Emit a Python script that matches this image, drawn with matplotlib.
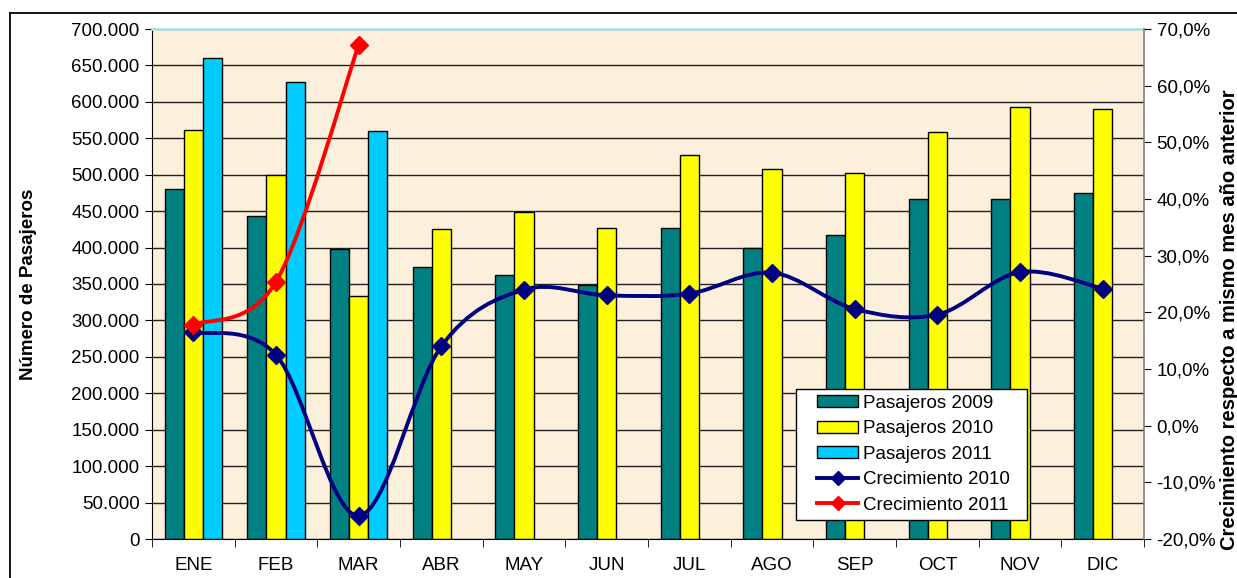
import matplotlib
matplotlib.use("Agg")
import matplotlib.pyplot as plt
import numpy as np
from matplotlib.path import Path
from matplotlib.patches import PathPatch, Patch, Rectangle
from matplotlib.lines import Line2D
from matplotlib.ticker import FuncFormatter, MultipleLocator

plt.rcParams['font.family'] = ['Liberation Sans', 'DejaVu Sans']

months = ["ENE", "FEB", "MAR", "ABR", "MAY", "JUN", "JUL", "AGO", "SEP", "OCT", "NOV", "DIC"]
pas_2009 = [480000, 443000, 398000, 374000, 362000, 348000, 427000, 400000, 417000, 467000, 467000, 475000]
pas_2010 = [562000, 500000, 334000, 425000, 449000, 427000, 527000, 508000, 502000, 558000, 593000, 590000]
pas_2011 = [660000, 627000, 560000]
crec_2010 = [16.5, 12.5, -15.9, 14.0, 24.0, 23.0, 23.3, 27.0, 20.6, 19.6, 27.1, 24.2]
crec_2011 = [17.8, 25.4, 67.2]

W, H = 1237, 578
fig = plt.figure(figsize=(W / 100, H / 100), dpi=100)
fig.patch.set_facecolor('white')

# outer frame
fig.add_artist(Line2D([10 / W, 10 / W], [0, 1 - 13 / H], color='black', lw=1.3, transform=fig.transFigure))
fig.add_artist(Line2D([10 / W, 1], [1 - 13 / H, 1 - 13 / H], color='black', lw=1.3, transform=fig.transFigure))

ax = fig.add_axes([152 / W, 39 / H, (1144 - 152) / W, (539 - 29) / H])
ax.set_facecolor('#FCF0DC')
x = np.arange(len(months))
bw = 0.23
ax.bar(x - bw, pas_2009, width=bw, color='#008080', edgecolor='black', linewidth=1, zorder=2)
ax.bar(x, pas_2010, width=bw, color='#FFFF00', edgecolor='black', linewidth=1, zorder=2)
ax.bar(np.arange(len(pas_2011)) + bw, pas_2011, width=bw, color='#00CCFF', edgecolor='black', linewidth=1, zorder=2)

ax.set_xlim(-0.5, len(months) - 0.5)
ax.set_ylim(0, 700000)
ax.yaxis.set_major_locator(MultipleLocator(50000))
ax.yaxis.set_major_formatter(FuncFormatter(lambda v, p: f"{int(v):,}".replace(",", ".")))
ax.grid(axis='y', color='#222222', linewidth=1)
ax.set_axisbelow(True)
ax.set_xticks(x)
ax.set_xticklabels(months, fontsize=13.5)
ax.set_xticks(np.arange(len(months) + 1) - 0.5, minor=True)
ax.tick_params(axis='x', which='major', length=0, pad=13)
ax.tick_params(axis='x', which='minor', length=6, color='black', direction='out')
ax.tick_params(axis='y', labelsize=13.5, length=5, direction='out', pad=4)
ax.set_ylabel("Número de Pasajeros", fontsize=13.5, fontweight='bold')
ax.yaxis.set_label_coords((37 - 152) / 992, 0.5)
ax.spines['top'].set_color('#B4DCDC')
ax.spines['top'].set_linewidth(2)
ax.spines['right'].set_visible(False)
ax.spines['left'].set_color('black')
ax.spines['bottom'].set_color('black')

ax2 = ax.twinx()
ax2.set_ylim(-20, 70)
ax2.yaxis.set_major_locator(MultipleLocator(10))
ax2.yaxis.set_major_formatter(FuncFormatter(lambda v, p: f"{v:.1f}%".replace(".", ",")))
ax2.tick_params(axis='y', labelsize=13.5, length=5, direction='out', pad=4)
ax2.spines['right'].set_color('#808080')
ax2.spines['right'].set_linewidth(1.2)
ax2.spines['top'].set_visible(False)
ax2.spines['left'].set_visible(False)
ax2.spines['bottom'].set_visible(False)
ax2.set_ylabel("Crecimiento respecto a mismo mes año anterior", fontsize=14.5, fontweight='bold')
ax2.yaxis.set_label_coords((1220 - 152) / 992, 1 - (320 - 29) / 510)


def smooth_path(xs, ys):
    pts = np.column_stack([xs, ys]).astype(float)
    n = len(pts)
    verts = [pts[0]]
    codes = [Path.MOVETO]
    for i in range(n - 1):
        p0 = pts[i - 1] if i > 0 else pts[i]
        p1 = pts[i]
        p2 = pts[i + 1]
        p3 = pts[i + 2] if i + 2 < n else pts[i + 1]
        c1 = p1 + (p2 - p0) / 6.0
        c2 = p2 - (p3 - p1) / 6.0
        verts += [c1, c2, p2]
        codes += [Path.CURVE4] * 3
    return Path(verts, codes)


for vals, col in [(crec_2010, '#000080'), (crec_2011, '#FF0000')]:
    xs = np.arange(len(vals))
    ax2.add_patch(PathPatch(smooth_path(xs, vals), facecolor='none', edgecolor=col, lw=2.8, zorder=3,
                            capstyle='round', joinstyle='round'))
    ax2.plot(xs, vals, linestyle='none', marker='D', markersize=9, color=col, zorder=4)

# legend box
ax2.add_patch(Rectangle((796 / W, 1 - 520 / H), (1027 - 796) / W, (520 - 389) / H,
                        transform=fig.transFigure, facecolor='white', edgecolor='black',
                        linewidth=1, zorder=4.5))
handles = [
    Patch(facecolor='#008080', edgecolor='black', label='Pasajeros 2009'),
    Patch(facecolor='#FFFF00', edgecolor='black', label='Pasajeros 2010'),
    Patch(facecolor='#00CCFF', edgecolor='black', label='Pasajeros 2011'),
    Line2D([], [], color='#000080', lw=2.8, marker='D', markersize=7, label='Crecimiento 2010'),
    Line2D([], [], color='#FF0000', lw=2.8, marker='D', markersize=7, label='Crecimiento 2011'),
]
leg = ax2.legend(handles=handles, loc='upper left', bbox_to_anchor=(817 / W, 1 - 395 / H),
                 bbox_transform=fig.transFigure, fontsize=13.5, frameon=False,
                 borderaxespad=0, labelspacing=0.45, borderpad=0,
                 handlelength=2.2, handletextpad=0.25, handleheight=0.6)
leg.set_zorder(5)

fig.savefig("out.png", dpi=100)
